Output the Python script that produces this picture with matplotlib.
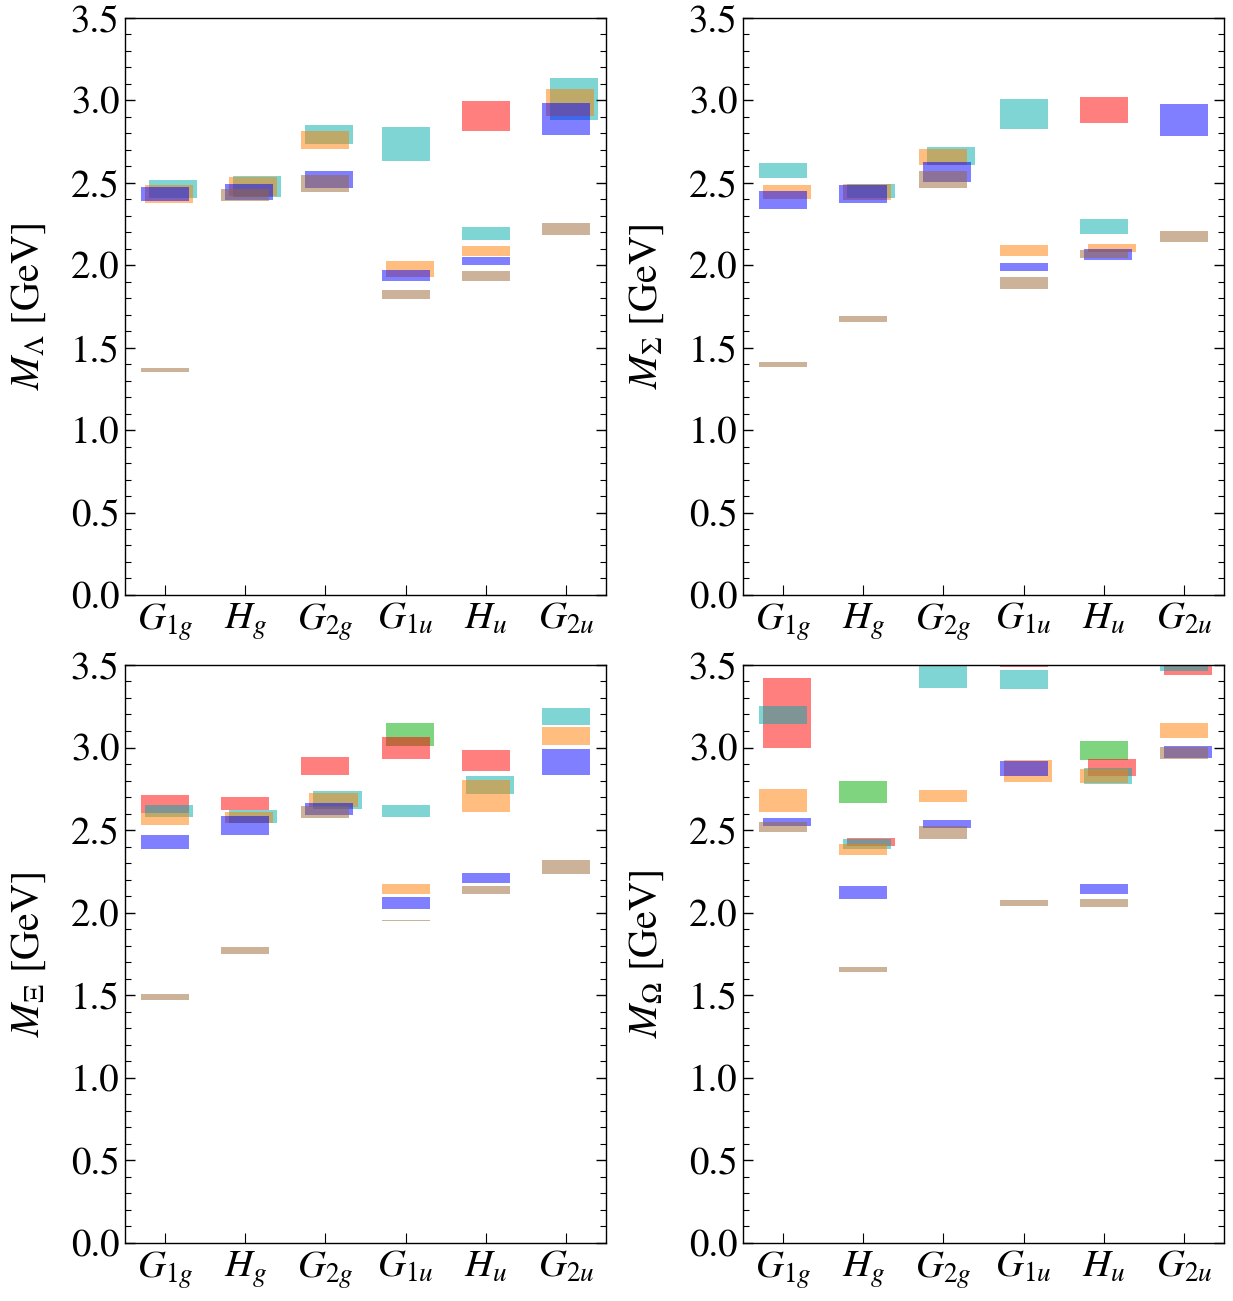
import numpy as np
import matplotlib
matplotlib.use("Agg")
import matplotlib.pyplot as plt
from matplotlib.ticker import MultipleLocator

plt.rcParams['font.family'] = ['STIXGeneral', 'Liberation Serif', 'DejaVu Serif']
plt.rcParams['mathtext.fontset'] = 'stix'

irreps = [r'$G_{1g}$', r'$H_g$', r'$G_{2g}$', r'$G_{1u}$', r'$H_u$', r'$G_{2u}$']

# (irrep index, series, low, high) in GeV
lam = [
    (0, 'br', 1.350, 1.375), (0, 'bl', 2.390, 2.475), (0, 'or', 2.378, 2.487), (0, 'cy', 2.408, 2.517),
    (1, 'br', 2.390, 2.463), (1, 'bl', 2.396, 2.493), (1, 'or', 2.420, 2.535), (1, 'cy', 2.414, 2.541),
    (2, 'cy', 2.736, 2.851), (2, 'or', 2.705, 2.815), (2, 'bl', 2.468, 2.572), (2, 'br', 2.445, 2.548),
    (3, 'cy', 2.633, 2.839), (3, 'or', 1.929, 2.026), (3, 'bl', 1.905, 1.971), (3, 'br', 1.795, 1.850),
    (4, 're', 2.815, 2.996), (4, 'cy', 2.153, 2.232), (4, 'or', 2.056, 2.117), (4, 'bl', 2.002, 2.050),
    (4, 'br', 1.905, 1.965),
    (5, 'cy', 2.881, 3.136), (5, 'or', 2.905, 3.069), (5, 'bl', 2.790, 2.984), (5, 'br', 2.184, 2.256),
]
lam_shift = [0, 0, 0.05, 0.1,
             0, 0.05, 0.1, 0.15,
             0.05, 0, 0.05, 0,
             0, 0.05, 0, 0,
             0, 0, 0, 0,
             0,
             0.1, 0.05, 0, 0]

sig = [
    (0, 'cy', 2.529, 2.620), (0, 'or', 2.402, 2.487), (0, 'bl', 2.341, 2.451), (0, 'br', 1.383, 1.413),
    (1, 'bl', 2.378, 2.487), (1, 'or', 2.396, 2.493), (1, 'cy', 2.408, 2.493), (1, 'br', 1.656, 1.692),
    (2, 'cy', 2.608, 2.717), (2, 'or', 2.608, 2.705), (2, 'bl', 2.505, 2.626), (2, 'br', 2.468, 2.572),
    (3, 'cy', 2.827, 3.009), (3, 'or', 2.056, 2.123), (3, 'bl', 1.965, 2.014), (3, 'br', 1.856, 1.929),
    (4, 're', 2.863, 3.021), (4, 'cy', 2.190, 2.281), (4, 'or', 2.081, 2.129), (4, 'bl', 2.032, 2.099),
    (4, 'br', 2.044, 2.093),
    (5, 'bl', 2.784, 2.978), (5, 'br', 2.141, 2.208),
]
sig_shift = [0, 0.05, 0, 0,
             0, 0.05, 0.1, 0,
             0.1, 0, 0.05, 0,
             0, 0, 0, 0,
             0, 0, 0.1, 0.05,
             0,
             0, 0]

xi = [
    (0, 're', 2.604, 2.713), (0, 'cy', 2.580, 2.652), (0, 'or', 2.531, 2.604), (0, 'bl', 2.386, 2.471),
    (0, 'br', 1.471, 1.508),
    (1, 're', 2.622, 2.701), (1, 'cy', 2.543, 2.622), (1, 'or', 2.543, 2.610), (1, 'bl', 2.471, 2.586),
    (1, 'br', 1.750, 1.792),
    (2, 're', 2.834, 2.943), (2, 'cy', 2.628, 2.737), (2, 'or', 2.640, 2.725), (2, 'bl', 2.592, 2.664),
    (2, 'br', 2.574, 2.646),
    (3, 'gr', 3.010, 3.149), (3, 're', 2.931, 3.064), (3, 'cy', 2.580, 2.652), (3, 'or', 2.113, 2.174),
    (3, 'bl', 2.022, 2.095), (3, 'br', 1.950, 1.957),
    (4, 're', 2.858, 2.985), (4, 'cy', 2.719, 2.828), (4, 'or', 2.610, 2.804), (4, 'bl', 2.180, 2.241),
    (4, 'br', 2.113, 2.162),
    (5, 'cy', 3.137, 3.240), (5, 'or', 3.016, 3.125), (5, 'bl', 2.834, 2.991), (5, 'br', 2.234, 2.319),
]
xi_shift = [0, 0.05, 0, 0,
            0,
            0, 0.1, 0.05, 0,
            0,
            0, 0.15, 0.1, 0.05,
            0,
            0.05, 0, 0, 0,
            0, 0,
            0, 0.05, 0, 0,
            0,
            0, 0, 0, 0]

omg = [
    (0, 're', 2.997, 3.421), (0, 'cy', 3.143, 3.252), (0, 'or', 2.610, 2.749), (0, 'bl', 2.525, 2.574),
    (0, 'br', 2.489, 2.549),
    (1, 'gr', 2.664, 2.798), (1, 're', 2.404, 2.452), (1, 'cy', 2.386, 2.446), (1, 'or', 2.349, 2.416),
    (1, 'bl', 2.083, 2.162), (1, 'br', 1.641, 1.671),
    (2, 'cy', 3.361, 3.600), (2, 'or', 2.670, 2.743), (2, 'bl', 2.513, 2.561), (2, 'br', 2.446, 2.525),
    (3, 're', 3.488, 3.600), (3, 'cy', 3.355, 3.470), (3, 'bl', 2.828, 2.919), (3, 'or', 2.792, 2.925),
    (3, 'br', 2.041, 2.077),
    (4, 'gr', 2.925, 3.040), (4, 're', 2.828, 2.931), (4, 'cy', 2.779, 2.876), (4, 'or', 2.786, 2.870),
    (4, 'bl', 2.113, 2.174), (4, 'br', 2.035, 2.083),
    (5, 'cy', 3.464, 3.600), (5, 're', 3.440, 3.600), (5, 'or', 3.058, 3.149), (5, 'bl', 2.937, 3.010),
    (5, 'br', 2.931, 3.004),
]
omg_shift = [0.05, 0, 0, 0.05,
             0,
             0, 0.1, 0.05, 0,
             0, 0,
             0, 0, 0.05, 0,
             0, 0, 0, 0.05,
             0,
             0, 0.1, 0.05, 0,
             0, 0,
             0, 0.05, 0, 0.05,
             0]

colors = {'gr': '#00aa00', 're': '#ff0000', 'cy': '#00aaaa',
          'or': '#ff7f00', 'bl': '#0000ff', 'br': '#996633'}
order = ['gr', 're', 'cy', 'or', 'bl', 'br']

panels = [
    (lam, lam_shift, r'$M_{\Lambda}$ [GeV]', [0.1014, 0.5427, 0.3901, 0.4435]),
    (sig, sig_shift, r'$M_{\Sigma}$ [GeV]', [0.6026, 0.5427, 0.3901, 0.4435]),
    (xi, xi_shift, r'$M_{\Xi}$ [GeV]', [0.1014, 0.0446, 0.3901, 0.4443]),
    (omg, omg_shift, r'$M_{\Omega}$ [GeV]', [0.6026, 0.0446, 0.3901, 0.4443]),
]

fig = plt.figure(figsize=(12.33, 13.01), dpi=100)
fs = 28

for data, shift, label, rect in panels:
    ax = fig.add_axes(rect)
    for key in order:
        idx = [i for i, d in enumerate(data) if d[1] == key]
        if not idx:
            continue
        x = np.array([data[i][0] + shift[i] for i in idx])
        lo = np.array([data[i][2] for i in idx])
        hi = np.array([data[i][3] for i in idx])
        ax.bar(x, hi - lo, bottom=lo, width=0.6, color=colors[key], alpha=0.5, linewidth=0)
    ax.set_xlim(-0.5, 5.5)
    ax.set_ylim(0, 3.5)
    ax.set_xticks(range(6))
    ax.set_xticklabels(irreps, fontsize=fs)
    ax.yaxis.set_minor_locator(MultipleLocator(0.1))
    ax.set_yticks(np.arange(0, 3.51, 0.5))
    ax.set_yticklabels(['%.1f' % v for v in np.arange(0, 3.51, 0.5)], fontsize=fs)
    ax.tick_params(axis='y', which='both', direction='in', left=True, right=True, pad=4)
    ax.tick_params(axis='y', which='major', length=7, width=1)
    ax.tick_params(axis='y', which='minor', length=4, width=0.8)
    ax.tick_params(axis='x', direction='in', length=7, width=0.8, top=False, pad=5)
    ax.set_ylabel(label, fontsize=29, labelpad=16)
    for s in ax.spines.values():
        s.set_linewidth(1.0)

fig.savefig('out.png', dpi=100)
